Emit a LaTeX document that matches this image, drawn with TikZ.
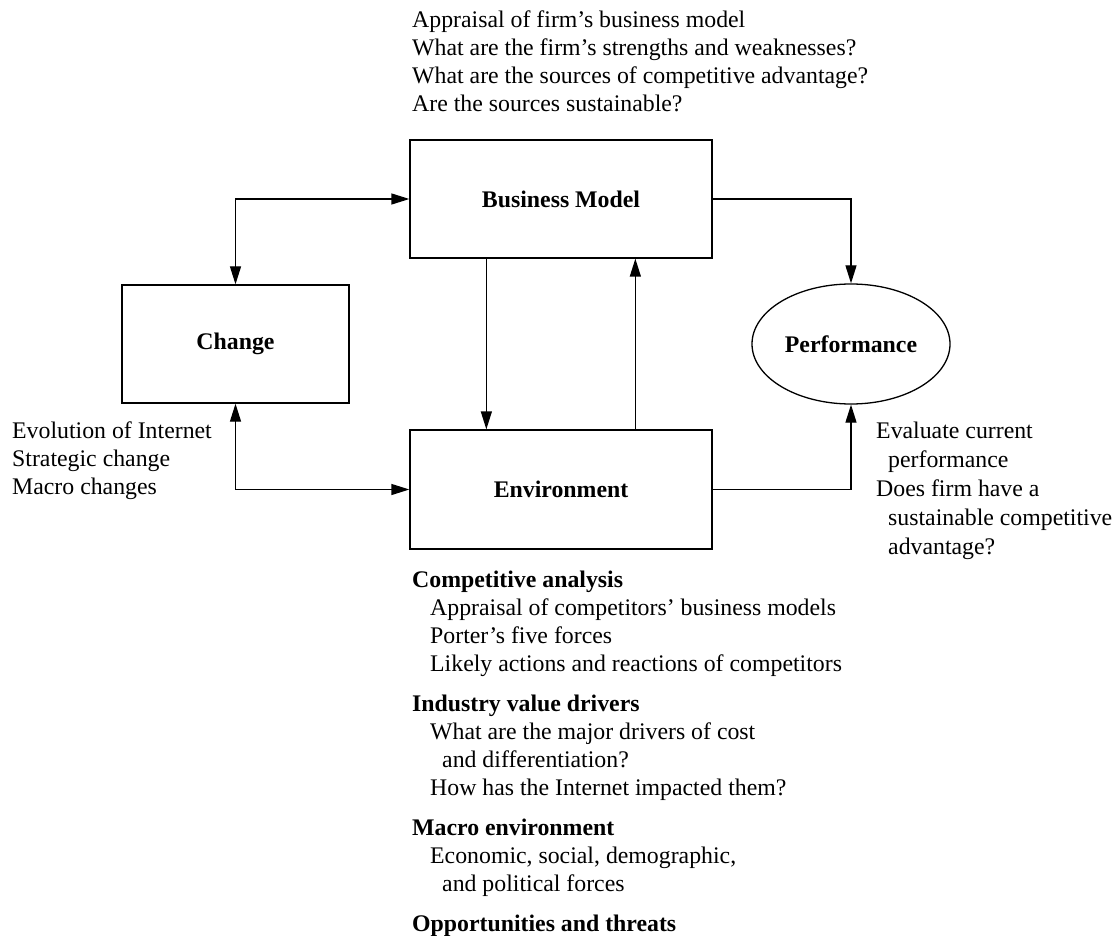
\documentclass[tikz,border=0pt]{standalone}
\usepackage{fontspec}
\setmainfont{Liberation Serif}
\usetikzlibrary{arrows.meta,shapes.geometric,calc}
\tikzset{
  txt/.style={font=\fontsize{23.8}{28}\selectfont},
  block/.style={draw, line width=1.3pt, rectangle, inner sep=0pt,
    font=\fontsize{23.8}{28}\selectfont\bfseries},
  oval/.style={draw, line width=1.3pt, ellipse, inner sep=0pt,
    minimum width=198pt, minimum height=120pt,
    font=\fontsize{23.8}{28}\selectfont\bfseries},
  note/.style={anchor=north west, inner sep=0pt, align=left, txt},
  tip/.tip={Triangle[length=18pt,width=11pt]},
  link/.style={line width=1.3pt, -tip},
  twoway/.style={line width=1.3pt, tip-tip},
}
\newcommand{\ind}[1]{\hspace*{#1pt}}
\begin{document}
\begin{tikzpicture}[x=1pt,y=-1pt]
  \useasboundingbox (0,0) rectangle (1117,936);

  % main blocks
  \node[block, minimum width=302pt, minimum height=118pt] (bm) at (561,199) {Business Model};
  \node[block, minimum width=227pt, minimum height=118pt] (chg) at (235.5,344) {Change};
  \node[block, minimum width=302pt, minimum height=119pt] (env) at (561,489.5) {Environment};
  \node[oval] (perf) at (851,344) {Performance};

  % connectors
  \draw[twoway] (chg.north) |- (bm.west);
  \draw[twoway] (chg.south) |- (env.west);
  \coordinate (downtop) at ($(bm.south west)+(77,0)$);
  \coordinate (uptop) at ($(bm.south west)+(226,0)$);
  \draw[link] (downtop) -- (downtop |- env.north);
  \draw[link] (uptop |- env.north) -- (uptop);
  \draw[link] (bm.east) -| (perf.north);
  \draw[link] (env.east) -| (perf.south);

  % annotations
  \node[note] (bmnote) at (412,7.4) {\strut Appraisal of firm’s business model\\
    What are the firm’s strengths and weaknesses?\\
    What are the sources of competitive advantage?\\
    Are the sources sustainable?};

  \node[note] (chgnote) at (12,418.4) {\strut Evolution of Internet\\
    Strategic change\\
    Macro changes};

  \node[note, font=\fontsize{23.8}{29}\selectfont] (perfnote) at (876,417.7) {\strut Evaluate current\\
    \ind{12}performance\\
    Does firm have a\\
    \ind{12}sustainable competitive\\
    \ind{12}advantage?};

  \node[note] (envnote) at (412,567.4) {\strut\textbf{Competitive analysis}\\
    \ind{18}Appraisal of competitors’ business models\\
    \ind{18}Porter’s five forces\\
    \ind{18}Likely actions and reactions of competitors\\[12pt]
    \textbf{Industry value drivers}\\
    \ind{18}What are the major drivers of cost\\
    \ind{30}and differentiation?\\
    \ind{18}How has the Internet impacted them?\\[12pt]
    \textbf{Macro environment}\\
    \ind{18}Economic, social, demographic,\\
    \ind{30}and political forces\\[12pt]
    \textbf{Opportunities and threats}};
\end{tikzpicture}
\end{document}
